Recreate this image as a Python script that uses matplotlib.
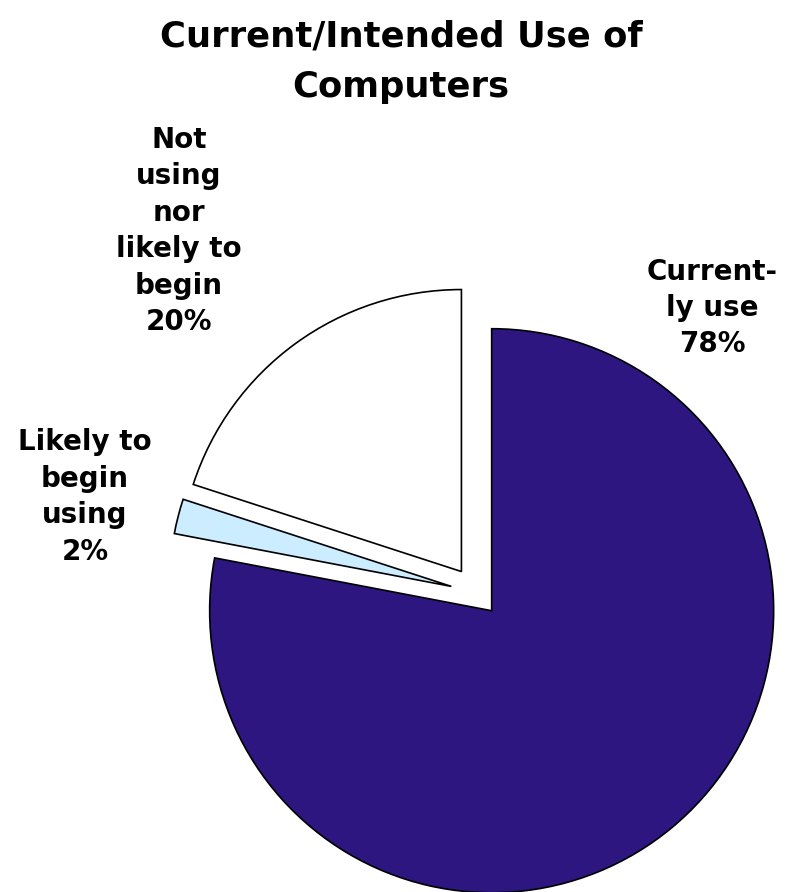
import matplotlib.pyplot as plt

# Survey shares
categories = ["Currently use", "Likely to begin using", "Not using nor likely to begin"]
shares = [78, 2, 20]
label_text = ["Current-\nly use", "Likely to\nbegin\nusing", "Not\nusing\nnor\nlikely to\nbegin"]
colors = ["#2D1680", "#CCECFF", "#FFFFFF"]

W, H = 792, 892
fig = plt.figure(figsize=(W / 100, H / 100), dpi=100)
ax = fig.add_axes([0, 0, 1, 1])

def py(y):
    # pixel row (from top) -> data y (from bottom)
    return H - y

center = (477, py(593))
radius = 282
explode = [23, 26.5, 26.5]

ax.pie(shares, colors=colors, startangle=90, counterclock=False,
       explode=explode, radius=radius, center=center,
       wedgeprops=dict(edgecolor="black", linewidth=1.2))
ax.set_xlim(0, W)
ax.set_ylim(0, H)
ax.set_aspect("equal")
ax.axis("off")

font = dict(family="DejaVu Sans", weight="bold", color="black")

ax.text(401, py(62), "Current/Intended Use of\nComputers", ha="center", va="center",
        fontsize=25.5, linespacing=1.6, **font)

label_pos = [(712, py(308)), (85, py(497)), (179, py(231))]
for txt, pct, (x, y) in zip(label_text, shares, label_pos):
    ax.text(x, y, f"{txt}\n{pct}%", ha="center", va="center",
            fontsize=20, linespacing=1.38, **font)

fig.savefig("out.png", dpi=100)
